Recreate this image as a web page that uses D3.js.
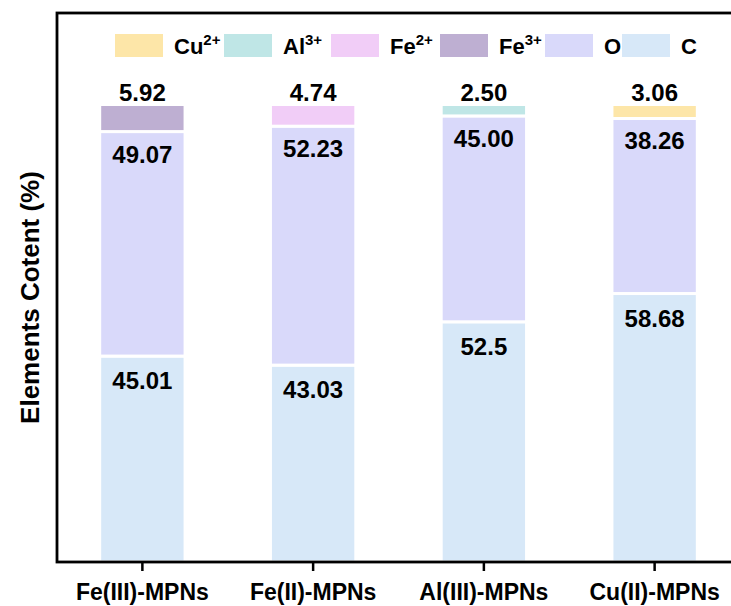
<!DOCTYPE html>
<html>
<head>
<meta charset="utf-8">
<script src="https://cdn.jsdelivr.net/npm/d3@7"></script>
<style>
  html, body { margin: 0; padding: 0; background: #fff; }
  svg { display: block; }
  text { font-family: "Liberation Sans", Arial, sans-serif; font-weight: bold; fill: #000; }
</style>
</head>
<body>
<script>
// ---- data ----
const categories = ["Fe(III)-MPNs", "Fe(II)-MPNs", "Al(III)-MPNs", "Cu(II)-MPNs"];
const seriesKeys = ["C", "O", "Fe3+", "Fe2+", "Al3+", "Cu2+"];      // stack order, bottom -> top
const valuesC   = [45.01, 43.03, 52.5, 58.68];
const valuesO   = [49.07, 52.23, 45.00, 38.26];
const valuesFe3 = [5.92, 0, 0, 0];
const valuesFe2 = [0, 4.74, 0, 0];
const valuesAl3 = [0, 0, 2.50, 0];
const valuesCu2 = [0, 0, 0, 3.06];
const labelsC   = ["45.01", "43.03", "52.5", "58.68"];
const labelsO   = ["49.07", "52.23", "45.00", "38.26"];
const labelsMetal = ["5.92", "4.74", "2.50", "3.06"];
const legendOrder = ["Cu2+", "Al3+", "Fe2+", "Fe3+", "O", "C"];
const legendBase = {"Cu2+": "Cu", "Al3+": "Al", "Fe2+": "Fe", "Fe3+": "Fe", "O": "O", "C": "C"};
const legendSup  = {"Cu2+": "2+", "Al3+": "3+", "Fe2+": "2+", "Fe3+": "3+", "O": "", "C": ""};
const yTitle = "Elements Cotent (%)";
const yMax = 120;

const colors = {
  "Cu2+": "#FDE6A8",
  "Al3+": "#BFE6E6",
  "Fe2+": "#F1CDF7",
  "Fe3+": "#BEAFD2",
  "O":    "#D9D9FA",
  "C":    "#D7E8F8"
};

// ---- layout ----
const W = 731, H = 606;
const plot = { left: 57, top: 13, right: 740, bottom: 562 };

const svg = d3.select("body").append("svg").attr("width", W).attr("height", H);

const x = d3.scaleBand().domain(categories)
  .range([plot.left, plot.right]).paddingInner(0.5).paddingOuter(0.25);
const y = d3.scaleLinear().domain([0, yMax]).range([plot.bottom, plot.top]);

const table = categories.map((c, i) => ({
  cat: c,
  "C": valuesC[i], "O": valuesO[i], "Fe3+": valuesFe3[i],
  "Fe2+": valuesFe2[i], "Al3+": valuesAl3[i], "Cu2+": valuesCu2[i]
}));
const stacked = d3.stack().keys(seriesKeys)(table);

// bars
const layers = svg.append("g").selectAll("g").data(stacked).join("g")
  .attr("fill", d => colors[d.key]);
layers.selectAll("rect")
  .data(d => d.filter(s => s[1] - s[0] > 0))
  .join("rect")
  .attr("x", d => x(d.data.cat))
  .attr("width", x.bandwidth())
  .attr("y", d => y(d[1]))
  .attr("height", d => y(d[0]) - y(d[1]))
  .attr("stroke", "#fff")
  .attr("stroke-width", 3);

// labels
const cx = c => x(c) + x.bandwidth() / 2;
const lbl = svg.append("g").attr("text-anchor", "middle").style("font-size", "24px");
const sC = stacked.find(s => s.key === "C");
const sO = stacked.find(s => s.key === "O");
categories.forEach((c, i) => {
  lbl.append("text").attr("x", cx(c)).attr("y", y(sC[i][1]) + 33).text(labelsC[i]);
  lbl.append("text").attr("x", cx(c)).attr("y", y(sO[i][1]) + 31).text(labelsO[i]);
  const top = d3.max(stacked, s => s[i][1]);
  lbl.append("text").attr("x", cx(c)).attr("y", y(top) - 4).text(labelsMetal[i]);
});

// x axis
const xAxis = svg.append("g").attr("transform", `translate(0,${plot.bottom})`)
  .call(d3.axisBottom(x).tickSize(9).tickPadding(13));
xAxis.select(".domain").remove();
xAxis.selectAll(".tick line").attr("stroke", "#000").attr("stroke-width", 2.5);
xAxis.selectAll(".tick text").style("font-size", "23px")
  .style("font-family", '"Liberation Sans", Arial, sans-serif').style("font-weight", "bold")
  .attr("fill", "#000");

// frame
svg.append("rect")
  .attr("x", plot.left).attr("y", plot.top)
  .attr("width", plot.right - plot.left).attr("height", plot.bottom - plot.top)
  .attr("fill", "none").attr("stroke", "#000").attr("stroke-width", 2.8);

// y title
svg.append("text")
  .attr("transform", `translate(39,${(plot.top + plot.bottom) / 2 + 10}) rotate(-90)`)
  .attr("text-anchor", "middle")
  .style("font-size", "26px")
  .text(yTitle);

// legend
const legendX = [115, 224, 331, 440, 545, 622];
const leg = svg.append("g");
legendOrder.forEach((k, i) => {
  const g = leg.append("g").attr("transform", `translate(${legendX[i]},34)`);
  g.append("rect").attr("width", 48).attr("height", 23).attr("fill", colors[k]);
  const t = g.append("text").attr("x", 59).attr("y", 20).style("font-size", "22px");
  t.append("tspan").text(legendBase[k]);
  if (legendSup[k]) {
    t.append("tspan").attr("dy", -9).style("font-size", "15px").text(legendSup[k]);
  }
});
</script>
</body>
</html>
